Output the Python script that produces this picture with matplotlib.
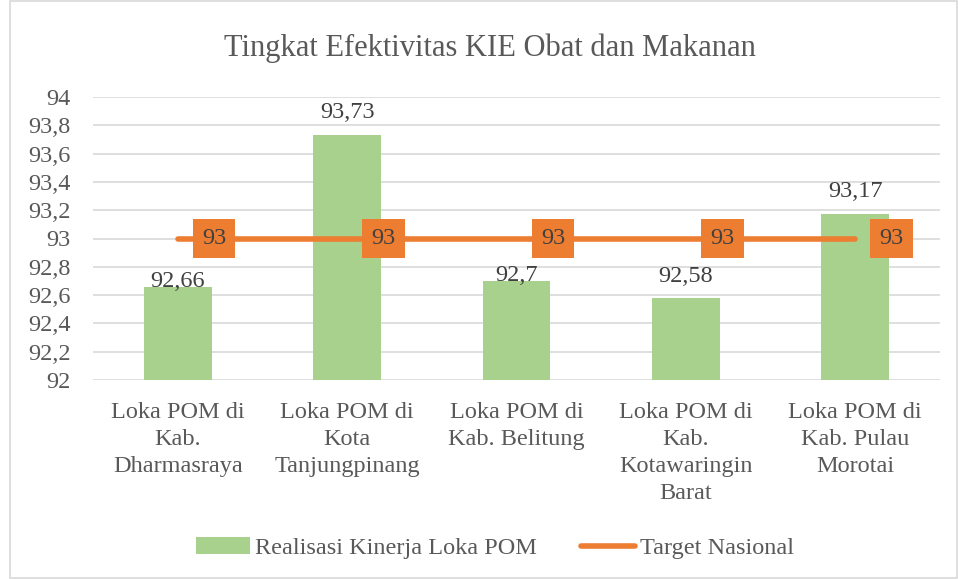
import numpy as np
import matplotlib.pyplot as plt
from matplotlib.patches import Rectangle

categories = ['Loka POM di\nKab.\nDharmasraya', 'Loka POM di\nKota\nTanjungpinang',
              'Loka POM di\nKab. Belitung', 'Loka POM di\nKab.\nKotawaringin\nBarat',
              'Loka POM di\nKab. Pulau\nMorotai']
realisasi = [92.66, 93.73, 92.7, 92.58, 93.17]
realisasi_labels = ['92,66', '93,73', '92,7', '92,58', '93,17']
target = [93, 93, 93, 93, 93]
yticks = [92, 92.2, 92.4, 92.6, 92.8, 93, 93.2, 93.4, 93.6, 93.8, 94]
ytick_labels = ['92', '92,2', '92,4', '92,6', '92,8', '93', '93,2', '93,4', '93,6', '93,8', '94']

# label lift above bar top (axis units); Excel pushes two labels down near the line labels
label_lift = [0.0, 0.12, 0.0, 0.115, 0.12]

plt.rcParams['font.family'] = ['Liberation Serif', 'DejaVu Serif']
text_col = '#595959'
green = '#A9D18E'
orange = '#ED7D31'

fig = plt.figure(figsize=(9.58, 5.79), dpi=100)
ax = fig.add_axes([93/958, 1 - 380/579, 847/958, 283/579])
fig.patches.append(Rectangle((10/958, 0.002), 1 - 10/958 - 0.001, 0.996, transform=fig.transFigure,
                             fill=False, edgecolor='#D9D9D9', linewidth=1.2))

x = np.arange(len(categories))
bars = ax.bar(x, [v - 92 for v in realisasi], bottom=92, width=0.4, color=green, zorder=2,
              label='Realisasi Kinerja Loka POM')
line, = ax.plot(x, target, color=orange, linewidth=4, solid_capstyle='round', zorder=3,
                label='Target Nasional')

for xi, v, lab, lift in zip(x, realisasi, realisasi_labels, label_lift):
    ax.text(xi, v + lift, lab, ha='center', va='baseline', fontsize=17.5, color='#404040', zorder=4)
for xi, t in zip(x, target):
    ax.text(xi + 0.215, t, '93', ha='center', va='center', fontsize=17.5, color='#404040', zorder=4,
            bbox=dict(boxstyle='square,pad=0.38', facecolor=orange, edgecolor='none'))

ax.set_xlim(-0.5, 4.5)
ax.set_ylim(92, 94)
ax.set_yticks(yticks)
ax.set_yticklabels(ytick_labels)
ax.set_xticks(x)
ax.set_xticklabels(categories, va='top', linespacing=1.36)
ax.tick_params(axis='both', length=0, labelsize=17.5, labelcolor=text_col)
ax.tick_params(axis='y', pad=16)
ax.tick_params(axis='x', pad=16)
ax.grid(axis='y', color='#D9D9D9', linewidth=1.2, zorder=0)
for s in ax.spines.values():
    s.set_visible(False)

fig.text(490/958, 1 - 48/579, 'Tingkat Efektivitas KIE Obat dan Makanan', ha='center', va='center',
         fontsize=22, color=text_col)

fig.legend([bars, line], ['Realisasi Kinerja Loka POM', 'Target Nasional'],
           loc='center', bbox_to_anchor=(495/958, 1 - 548/579), ncol=2, frameon=False,
           fontsize=17.5, labelcolor=text_col, handlelength=2.2, columnspacing=1.85, handletextpad=0.2)

fig.savefig('out.png', dpi=100)
